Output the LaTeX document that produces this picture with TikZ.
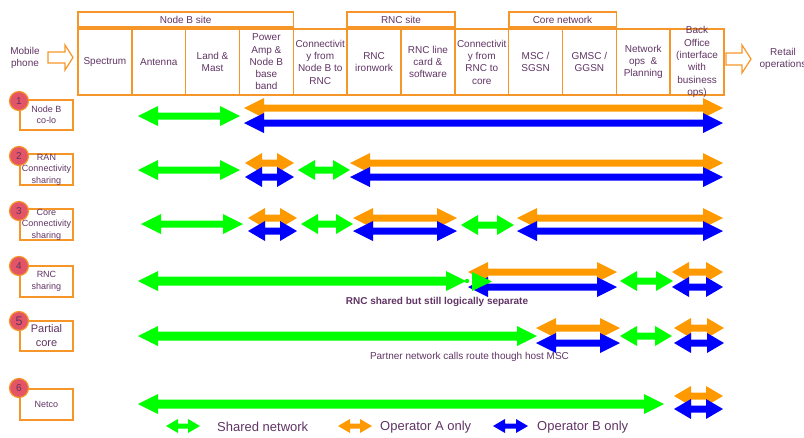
\documentclass[tikz,border=0pt]{standalone}
\usepackage{fontspec}
\setmainfont{Liberation Sans}
\definecolor{txt}{RGB}{96,52,100}
\definecolor{obox}{RGB}{247,150,40}
\definecolor{gr}{RGB}{0,255,0}
\definecolor{orA}{RGB}{255,153,0}
\definecolor{blB}{RGB}{0,0,255}
\definecolor{badge}{RGB}{226,84,102}
% double fat arrow: color, x1, x2, y, half shaft, head length, half head width
\newcommand\dbl[7]{\fill[#1] (#2,#4) -- ({#2+#6},{#4-#7}) -- ({#2+#6},{#4-#5}) -- ({#3-#6},{#4-#5}) -- ({#3-#6},{#4-#7}) -- (#3,#4) -- ({#3-#6},{#4+#7}) -- ({#3-#6},{#4+#5}) -- ({#2+#6},{#4+#5}) -- ({#2+#6},{#4+#7}) -- cycle;}
\newcommand\lng[4]{\dbl{#1}{#2}{#3}{#4}{3.5}{20}{10}}
\newcommand\shr[4]{\dbl{#1}{#2}{#3}{#4}{3.5}{17}{10}}
\newcommand\thk[4]{\dbl{#1}{#2}{#3}{#4}{4.5}{20}{10}}
\tikzset{
  obline/.style={draw=obox, line width=1.6pt},
  hdrtxt/.style={text=txt, font=\fontsize{10}{12.3}\selectfont, align=center, inner sep=0pt},
  grp/.style={obline, hdrtxt, minimum height=15pt},
  rowbox/.style={obline, text=txt, font=\fontsize{9}{11.5}\selectfont, align=center, minimum width=53pt, inner sep=0pt},
  badgec/.style={circle, fill=badge, draw=obox, line width=1.2pt, minimum size=19pt, inner sep=0pt, text=txt, font=\fontsize{10}{12}\selectfont},
  hollow/.style={draw=obox, line width=1.2pt, fill=white},
  note/.style={text=txt, font=\fontsize{10}{12}\selectfont, inner sep=0pt},
  legtxt/.style={text=txt, font=\fontsize{13}{15}\selectfont, anchor=west, inner sep=0pt}
}
\begin{document}
\begin{tikzpicture}[x=1pt,y=-1pt]
\useasboundingbox (0,0) rectangle (804,437);
% group headers
\node[grp, minimum width=215.3pt] (nbsite) at (185.65,19.5) {Node B site};
\node[grp, minimum width=107.6pt] (rncsite) at (401,19.5) {RNC site};
\node[grp, minimum width=107.6pt] (core) at (562.5,19.5) {Core network};
% columns
\foreach \i/\t in {0/Spectrum,1/Antenna,2/{Land \&\\Mast},3/{Power\\Amp \&\\Node B\\base\\band},4/{Connectivit\\y from\\Node B to\\RNC},5/{RNC\\ironwork},6/{RNC line\\card \&\\software},7/{Connectivit\\y from\\RNC to\\core},8/{MSC /\\SGSN},9/{GMSC /\\GGSN},10/{Network\\ops~~\&\\Planning},11/{Back\\Office\\(interface\\with\\business\\ops)}}{
  \draw[obline] ({78+53.833*\i},29) rectangle ({78+53.833*(\i+1)},95);
  \node[hdrtxt] (col\i) at ({78+53.833*(\i+0.5)},62) {\t};
}
% side arrows
\node[hdrtxt] (mob) at (25,58) {Mobile\\phone};
\draw[hollow] (48,52) -- (65,52) -- (65,45) -- (73,57.5) -- (65,70) -- (65,63) -- (48,63) -- cycle;
\node[hdrtxt] (ret) at (783,59) {Retail\\operations};
\draw[hollow] (726,53) -- (742,53) -- (742,45) -- (751,59) -- (742,73) -- (742,65) -- (726,65) -- cycle;
% row boxes
\node[rowbox, minimum height=30pt] (r1) at (46.5,115) {Node B\\co-lo};
\node[rowbox, minimum height=31pt] (r2) at (46.5,169.5) {RAN\\Connectivity\\sharing};
\node[rowbox, minimum height=31pt] (r3) at (46.5,224.5) {Core\\Connectivity\\sharing};
\node[rowbox, minimum height=31pt] (r4) at (46.5,281.5) {RNC\\sharing};
\node[rowbox, minimum height=30pt, font=\fontsize{11}{14}\selectfont] (r5) at (46.5,336) {Partial\\core};
\node[rowbox, minimum height=31pt] (r6) at (46.5,404.5) {Netco};
\node[badgec] (b1) at (19,101) {1};
\node[badgec] (b2) at (19,156) {2};
\node[badgec] (b3) at (19,211) {3};
\node[badgec] (b4) at (19,266) {4};
\node[badgec, font=\fontsize{12.5}{14}\selectfont] (b5) at (19,321) {5};
\node[badgec] (b6) at (19,388) {6};
% row 1
\lng{gr}{138}{240}{116}
\lng{orA}{244}{723}{108}
\lng{blB}{244}{723}{123}
% row 2
\lng{gr}{138}{240}{170}
\shr{orA}{245}{294}{163}
\shr{blB}{245}{294}{177}
\shr{gr}{298}{350}{170}
\lng{orA}{350}{723}{163}
\lng{blB}{350}{723}{177}
% row 3
\lng{gr}{141}{243}{224}
\shr{orA}{248}{297}{218}
\shr{blB}{248}{297}{231}
\shr{gr}{301}{353}{224}
\lng{orA}{353}{457}{218}
\lng{blB}{353}{457}{231}
\shr{gr}{461}{514}{225}
\lng{orA}{517}{723}{218}
\lng{blB}{517}{723}{231}
% row 4
\thk{gr}{138}{466}{281}
\fill[gr] (467,281) circle (2.2);
\lng{orA}{468}{617}{272}
\lng{blB}{468}{617}{287}
\fill[gr] (472,272) -- (492,281.5) -- (472,291) -- cycle;
\shr{gr}{620}{673}{281}
\shr{orA}{672}{723}{272}
\shr{blB}{672}{723}{287}
\node[note, font=\bfseries\fontsize{10}{12}\selectfont] (n4) at (437,302) {RNC shared but still logically separate};
% row 5
\thk{gr}{138}{537}{336}
\lng{orA}{536}{620}{328}
\lng{blB}{536}{620}{343}
\shr{gr}{620}{672}{336}
\shr{orA}{674}{724}{328}
\shr{blB}{674}{724}{343}
\node[note] (n5) at (469.5,357) {Partner network calls route though host MSC};
% row 6
\thk{gr}{138}{664}{404}
\shr{orA}{674}{723}{396}
\shr{blB}{674}{723}{409}
% legend
\dbl{gr}{166}{200}{426}{2.5}{12}{7}
\node[legtxt] (lg1) at (217,427) {Shared network};
\dbl{orA}{338}{372}{426}{2.5}{12}{7}
\node[legtxt] (lg2) at (380,427) {Operator A only};
\dbl{blB}{493}{528}{426}{2.5}{12}{7}
\node[legtxt] (lg3) at (537,427) {Operator B only};
\end{tikzpicture}
\end{document}
